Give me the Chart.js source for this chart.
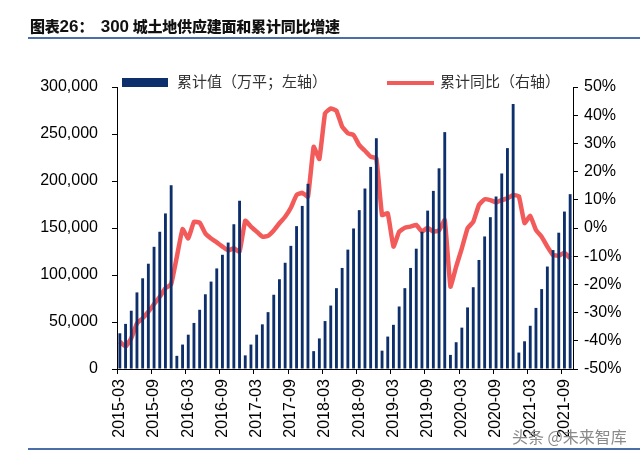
<!DOCTYPE html>
<html>
<head>
<meta charset="utf-8">
<script src="https://cdn.jsdelivr.net/npm/chart.js@4/dist/chart.umd.min.js"></script>
<style>
  body { margin: 0; background: #fff; }
  #wrap { position: relative; width: 640px; height: 455px; overflow: hidden; }
  #chart { position: absolute; left: 0; top: 0; }
  .title { position: absolute; left: 30px; top: 13px; font-family: "Noto Sans CJK SC"; font-weight: 900; color: #111; white-space: nowrap; }
  .title .num { font-family: "Liberation Sans"; font-size: 17px; font-weight: bold; }
  .title .cjk { font-size: 15px; letter-spacing: -0.2px; }
  .rule { position: absolute; left: 28px; width: 612px; height: 2px; background: #4a6ea8; }
  .legend { position: absolute; font-family: "Noto Sans CJK SC"; font-size: 15px; color: #333; white-space: nowrap; line-height: 18px; }
  .legend i { position: absolute; display: block; }
  .mark { position: absolute; left: 512px; top: 424px; font-family: "Noto Sans CJK SC"; font-size: 16px; color: #8a8a8a; white-space: nowrap; }
</style>
</head>
<body>
<div id="wrap">
  <canvas id="chart" width="640" height="455"></canvas>
  <div class="title"><span class="cjk">图表</span><span class="num">26</span><span class="cjk">：</span>&nbsp;&nbsp;<span class="num">300</span> <span class="cjk">城土地供应建面和累计同比增速</span></div>
  <div class="rule" style="top:37px"></div>
  <div class="rule" style="top:448px"></div>
  <div class="legend" style="left:122px; top:72px"><i style="left:0; top:6px; width:46px; height:9px; background:#0d2f6b"></i><span style="margin-left:55px">累计值（万平；左轴）</span></div>
  <div class="legend" style="left:387px; top:72px"><i style="left:0; top:9px; width:47px; height:4px; background:#f35b5b"></i><span style="margin-left:53px">累计同比（右轴）</span></div>
  <div class="mark">头条 @未来智库</div>
</div>
<script>
// 300城土地供应建面：累计值（万平）与累计同比（%）
const startYear = 2015;
const startMonth = 3;

const area2015 = [38000, 48000, 62000, 81500, 96500, 112000, 130000, 146000, 165500, 195500];
const area2016 = [14000, 26000, 36500, 49000, 63000, 79500, 93000, 107000, 121500, 134500, 154000, 179000];
const area2017 = [14500, 26000, 36500, 47500, 60500, 79000, 95500, 113000, 131000, 152000, 173500, 197000];
const area2018 = [19000, 32500, 51000, 67500, 86000, 107500, 127000, 149500, 169000, 192000, 215000, 245500];
const area2019 = [19500, 34500, 47000, 66500, 86000, 107500, 128000, 146000, 168500, 189500, 213500, 252000];
const area2020 = [15000, 28500, 44000, 65500, 87000, 116000, 141000, 161500, 183500, 208000, 235000, 282000];
const area2021 = [17500, 29500, 46000, 65000, 85000, 109000, 126500, 145000, 167500, 186000];

const yoy2015 = [-40.3, -42.1, -39.1, -33.8, -32.0, -29.7, -27.0, -24.4, -21.4, -19.9];
const yoy2016 = [-10.2, -0.4, -3.7, 2.2, 1.9, -1.9, -3.7, -5.1, -6.6, -8.0, -7.2, -8.4];
const yoy2017 = [2.6, 0.5, -1.3, -3.1, -2.8, -0.9, 1.7, 4.0, 7.2, 11.7, 12.5, 11.1];
const yoy2018 = [28.8, 24.5, 40.7, 42.4, 41.6, 35.9, 33.6, 33.0, 29.4, 27.4, 25.3, 24.7];
const yoy2019 = [4.6, 5.2, -6.6, -1.3, 0.1, 0.5, 1.1, -1.3, 0.1, -1.3, -0.9, 2.8];
const yoy2020 = [-20.8, -13.7, -7.2, -0.1, 2.2, 8.2, 10.2, 9.9, 9.1, 9.9, 10.5, 11.7];
const yoy2021 = [11.3, 1.7, 4.3, -0.7, -3.1, -6.6, -9.6, -9.8, -8.8, -10.7];

const leftTicks = [0, 50000, 100000, 150000, 200000, 250000, 300000];
const rightTicks = [-50, -40, -30, -20, -10, 0, 10, 20, 30, 40, 50];

const areaData = [].concat(area2015, area2016, area2017, area2018, area2019, area2020, area2021);
const yoyData = [].concat(yoy2015, yoy2016, yoy2017, yoy2018, yoy2019, yoy2020, yoy2021);

const months = [];
for (let i = 0; i < areaData.length; i++) {
    const m = startMonth - 1 + i;
    const y = startYear + Math.floor(m / 12);
    months.push(y + '-' + String(m % 12 + 1).padStart(2, '0'));
}

const axisFont = { family: 'Liberation Sans', size: 16 };

new Chart(document.getElementById('chart').getContext('2d'), {
    type: 'bar',
    data: {
        labels: months,
        datasets: [{
            type: 'bar',
            label: '累计值（万平；左轴）',
            data: areaData,
            backgroundColor: '#0d2f6b',
            barPercentage: 0.5,
            categoryPercentage: 1,
            yAxisID: 'y',
            order: 0
        }, {
            type: 'line',
            label: '累计同比（右轴）',
            data: yoyData,
            borderColor: '#f35b5b',
            borderWidth: 4.5,
            pointRadius: 0,
            tension: 0.1,
            borderJoinStyle: 'round',
            yAxisID: 'y1',
            order: 1
        }]
    },
    options: {
        responsive: false,
        animation: false,
        layout: { padding: { top: 87, left: 0, right: 0, bottom: 0 } },
        plugins: {
            legend: { display: false },
            title: { display: false },
            tooltip: { enabled: false }
        },
        scales: {
            x: {
                offset: true,
                afterFit: scale => { scale.height = 86; },
                border: { color: '#000', width: 1 },
                grid: {
                    offset: true,
                    drawOnChartArea: false,
                    tickLength: 5,
                    color: ctx => (ctx.index % 6 === 0 ? '#000' : 'rgba(0,0,0,0)')
                },
                ticks: {
                    autoSkip: false,
                    minRotation: 90,
                    maxRotation: 90,
                    padding: 5,
                    color: '#000',
                    font: axisFont,
                    callback: (v, i) => (i % 6 === 0 ? months[i] : '')
                }
            },
            y: {
                position: 'left',
                min: 0,
                max: 300000,
                afterFit: scale => { scale.width = 117; },
                afterBuildTicks: scale => { scale.ticks = leftTicks.map(v => ({ value: v })); },
                border: { color: '#000', width: 1 },
                grid: { drawOnChartArea: false, tickLength: 5, color: '#000' },
                ticks: {
                    padding: 14,
                    color: '#000',
                    font: axisFont,
                    callback: v => v.toLocaleString('en-US')
                }
            },
            y1: {
                position: 'right',
                min: -50,
                max: 50,
                afterFit: scale => { scale.width = 67; },
                afterBuildTicks: scale => { scale.ticks = rightTicks.map(v => ({ value: v })); },
                border: { color: '#000', width: 1 },
                grid: { drawOnChartArea: false, tickLength: 5, color: '#000' },
                ticks: {
                    padding: 6,
                    color: '#000',
                    font: axisFont,
                    callback: v => v + '%'
                }
            }
        }
    }
});
</script>
</body>
</html>
